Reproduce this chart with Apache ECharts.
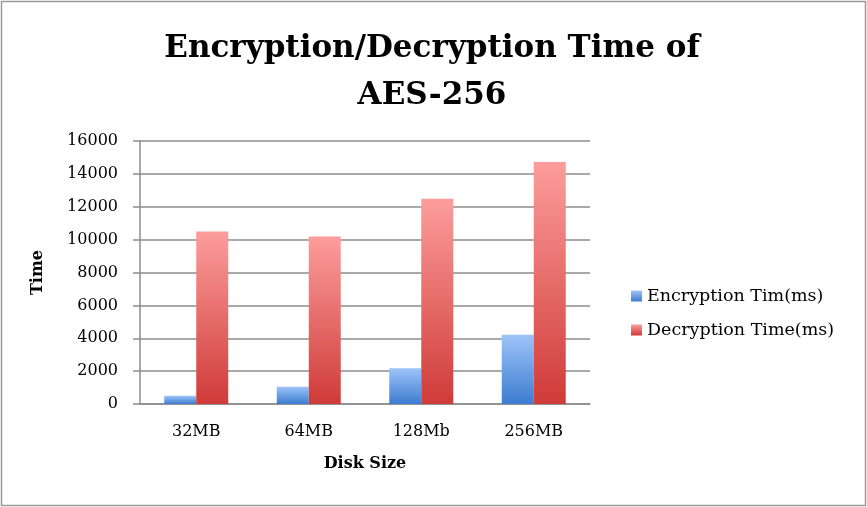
<!DOCTYPE html>
<html><head><meta charset="utf-8">
<script src="https://cdn.jsdelivr.net/npm/echarts@6/dist/echarts.min.js"></script>
<style>html,body{margin:0;padding:0;background:#fff}#c{width:867px;height:507px}</style>
</head><body><div id="c"></div>
<script>
const categories = ['32MB', '64MB', '128Mb', '256MB'];
const encryption = [500, 1050, 2170, 4210];
const decryption = [10490, 10190, 12480, 14720];
const seriesNames = ['Encryption Tim(ms)', 'Decryption Time(ms)'];

const chart = echarts.init(document.getElementById('c'), null, {renderer: 'canvas'});
const serif = '"DejaVu Serif", serif';
const grad = (a, b) => new echarts.graphic.LinearGradient(0, 0, 0, 1, [{offset: 0, color: a}, {offset: 1, color: b}]);
chart.setOption({
  animation: false,
  graphic: [{type: 'rect', shape: {x: 1.5, y: 1.5, width: 864, height: 504}, style: {fill: 'none', stroke: '#9a9a9a', lineWidth: 1.5}, silent: true}],
  title: {
    text: 'Encryption/Decryption Time of\nAES-256',
    left: 427, top: 20, textAlign: 'center',
    textStyle: {fontFamily: serif, fontWeight: 'bold', fontSize: 31, lineHeight: 47, color: '#000'}
  },
  legend: {
    orient: 'vertical', left: 631, top: 287, padding: 0, itemWidth: 11, itemHeight: 11, itemGap: 16,
    icon: 'rect',
    textStyle: {fontFamily: serif, fontSize: 17.5, color: '#000'},
    data: seriesNames
  },
  grid: {left: 140, right: 277, top: 141, bottom: 103, containLabel: false},
  xAxis: {
    type: 'category', data: categories,
    name: 'Disk Size', nameLocation: 'middle', nameGap: 52,
    nameTextStyle: {fontFamily: serif, fontWeight: 'bold', fontSize: 16, color: '#000'},
    axisLine: {lineStyle: {color: '#8c8c8c', width: 1.5}},
    axisTick: {show: false},
    axisLabel: {fontFamily: serif, fontSize: 16, color: '#000', margin: 20}
  },
  yAxis: {
    type: 'value', min: 0, max: 16000, interval: 2000,
    name: 'Time', nameLocation: 'middle', nameGap: 94,
    nameTextStyle: {fontFamily: serif, fontWeight: 'bold', fontSize: 16, color: '#000'},
    axisLine: {show: true, lineStyle: {color: '#8c8c8c', width: 1.5}},
    axisTick: {show: true, length: 7, lineStyle: {color: '#8c8c8c', width: 1.5}},
    splitLine: {lineStyle: {color: '#8c8c8c', width: 1.5}},
    axisLabel: {fontFamily: serif, fontSize: 16, color: '#000', margin: 22, formatter: v => String(v)}
  },
  series: [
    {name: seriesNames[0], type: 'bar', data: encryption, barWidth: 32, barGap: '0%',
     itemStyle: {color: grad('#9dc4f9', '#3c7cd0')}},
    {name: seriesNames[1], type: 'bar', data: decryption, barWidth: 32,
     itemStyle: {color: grad('#fc9d9c', '#cf3b38')}}
  ]
});
</script></body></html>
